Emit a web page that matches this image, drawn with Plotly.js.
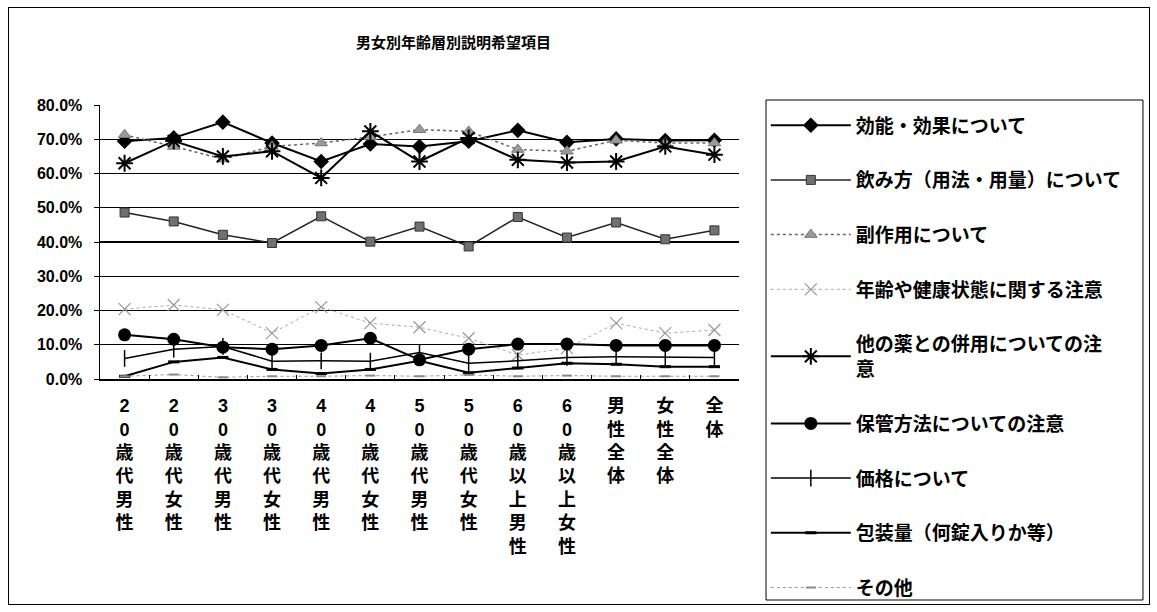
<!DOCTYPE html>
<html><head><meta charset="utf-8">
<script src="https://cdn.plot.ly/plotly-3.0.1.min.js"></script>
<style>
body{margin:0;background:#fff}
#wrap{position:relative;width:1157px;height:612px}
#chart{position:absolute;left:0;top:0;width:1157px;height:612px}
#frame{position:absolute;left:8px;top:7px;width:1140px;height:596px;border:1px solid #000;pointer-events:none}
</style>
</head><body><div id="wrap"><div id="chart"></div><div id="frame"></div></div>
<script>
const chartTitle = "男女別年齢層別説明希望項目";
const categories = ["20歳代男性","20歳代女性","30歳代男性","30歳代女性","40歳代男性","40歳代女性","50歳代男性","50歳代女性","60歳以上男性","60歳以上女性","男性全体","女性全体","全体"];
const tickLabels = categories.map(c => c.split("").join("<br>"));
const yTickValues = [0,10,20,30,40,50,60,70,80];
const yTickLabels = ["0.0%","10.0%","20.0%","30.0%","40.0%","50.0%","60.0%","70.0%","80.0%"];

const seriesNames = ["効能・効果について","飲み方（用法・用量）について","副作用について","年齢や健康状態に関する注意","他の薬との併用についての注<br>意","保管方法についての注意","価格について","包装量（何錠入りか等）","その他"];
const efficacy   = [69.4,70.4,75.0,68.9,63.5,68.6,67.9,69.4,72.6,69.1,70.1,69.6,69.7];
const dosage     = [48.6,46.0,42.1,39.7,47.5,40.1,44.5,38.7,47.3,41.3,45.7,40.8,43.4];
const sideEffect = [71.3,67.9,64.2,67.9,68.9,70.7,72.8,72.3,67.0,66.5,69.7,68.9,68.9];
const ageHealth  = [20.4,21.6,20.2,13.4,21.0,16.3,15.1,11.9,7.0,9.0,16.3,13.4,14.3];
const interaction= [63.0,69.5,65.0,66.5,58.7,72.3,63.5,70.4,64.0,63.2,63.5,67.9,65.5];
const storage    = [12.9,11.6,9.3,8.7,9.8,11.9,5.6,8.7,10.2,10.2,9.8,9.8,9.8];
const price      = [6.0,8.7,9.5,5.2,5.3,5.2,7.7,4.6,5.3,6.3,6.5,6.3,6.3];
const packageQty = [0.8,5.0,6.3,2.8,1.6,2.8,5.3,1.8,3.2,4.6,4.3,3.6,3.6];
const other      = [0.8,1.3,0.5,0.8,0.8,1.0,0.8,1.2,0.8,1.0,0.8,0.8,0.8];

const seriesValues = [efficacy,dosage,sideEffect,ageHealth,interaction,storage,price,packageQty,other];
const styles = [
  {line:{color:"#000",width:2},marker:{symbol:"diamond",size:12,color:"#000"}},
  {line:{color:"#222",width:1.5},marker:{symbol:"square",size:9,color:"#707070",line:{color:"#333",width:1}}},
  {line:{color:"#666",width:1.5,dash:"dot"},marker:{symbol:"triangle-up",size:11,color:"#9a9a9a",line:{color:"#777",width:1}}},
  {line:{color:"#aaa",width:1,dash:"dot"},marker:{symbol:"x-thin-open",size:12,color:"#999",line:{color:"#999",width:1.2}}},
  {line:{color:"#000",width:2},marker:{symbol:"asterisk-open",size:14,color:"#000",line:{color:"#000",width:2}}},
  {line:{color:"#000",width:2},marker:{symbol:"circle",size:13,color:"#000"}},
  {line:{color:"#000",width:1.5},marker:{symbol:"line-ns-open",size:12,color:"#000",line:{color:"#000",width:1.5}}},
  {line:{color:"#000",width:2},marker:{symbol:"line-ew-open",size:8,color:"#000",line:{color:"#000",width:3}}},
  {line:{color:"#999",width:1,dash:"dot"},marker:{symbol:"line-ew-open",size:7,color:"#888",line:{color:"#888",width:2}}}
];

const data = seriesNames.map((n,i) => Object.assign({
  type:"scatter", mode:"lines+markers", name:n, legendgroup:"g"+i,
  x:categories, y:seriesValues[i]
}, styles[i]));

const layout = {
  width:1157, height:612,
  margin:{l:100,r:418,t:105,b:233,autoexpand:false},
  paper_bgcolor:"#fff", plot_bgcolor:"#fff",
  title:{text:chartTitle, x:0.392, xanchor:"center", y:0.93, yanchor:"middle",
         font:{family:"Noto Sans CJK JP",size:15,weight:"bold",color:"#000"}},
  xaxis:{type:"category", tickmode:"array", tickvals:categories, ticktext:tickLabels,
         showline:true, linecolor:"#000", linewidth:1.5, showgrid:false,
         ticks:"inside", tickson:"boundaries", ticklen:4, tickcolor:"#000",
         ticklabelstandoff:10, automargin:false,
         tickfont:{family:"Liberation Sans, Noto Sans CJK JP",size:18,weight:"bold",color:"#000"},
         range:[-0.5,12.5], fixedrange:true},
  yaxis:{range:[0,80], tickmode:"array", tickvals:yTickValues, ticktext:yTickLabels,
         showline:true, linecolor:"#000", linewidth:1.5, automargin:false,
         showgrid:true, gridcolor:"#000", gridwidth:1.3, zeroline:false,
         ticks:"outside", ticklen:5, tickcolor:"#000", ticklabelstandoff:8,
         tickfont:{family:"Liberation Sans",size:16,weight:"bold",color:"#000"}},
  showlegend:true,
  legend:{x:1.042, xanchor:"left", y:0.995, yanchor:"top", traceorder:"grouped",
          tracegroupgap:27, itemwidth:80, maxheight:600, bgcolor:"rgba(0,0,0,0)", borderwidth:0,
          font:{family:"Noto Sans CJK JP",size:19,weight:"bold",color:"#000"}},
  shapes:[{type:"rect", xref:"paper", yref:"paper", x0:1.0423, x1:1.6322, y0:-0.8066, y1:1.0182,
           line:{color:"#000",width:1}, fillcolor:"rgba(0,0,0,0)"}]
};

Plotly.newPlot("chart", data, layout, {displayModeBar:false, staticPlot:true});
</script>
</body></html>
